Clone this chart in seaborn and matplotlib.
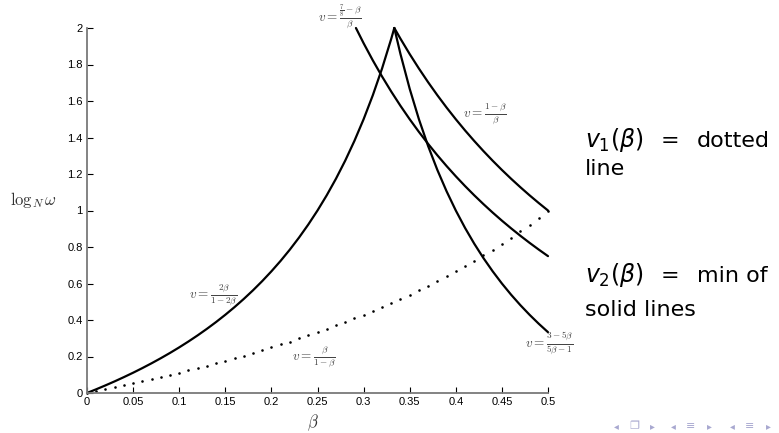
import numpy as np
import pandas as pd
import seaborn as sns
import matplotlib.pyplot as plt
from matplotlib.ticker import FuncFormatter

# values
# v = 2b/(1-2b), left branch up to the peak
beta_a = [0, 0.01, 0.02, 0.03, 0.04, 0.05, 0.06, 0.07, 0.08, 0.09, 0.10, 0.11,
          0.12, 0.13, 0.14, 0.15, 0.16, 0.17, 0.18, 0.19, 0.20, 0.21, 0.22, 0.23,
          0.24, 0.25, 0.26, 0.27, 0.28, 0.29, 0.30, 0.31, 0.32, 0.33, 0.3333]
v_a = [0, 0.0204, 0.0417, 0.0638, 0.0870, 0.1111, 0.1364, 0.1628, 0.1905, 0.2195,
       0.25, 0.2821, 0.3158, 0.3514, 0.3889, 0.4286, 0.4706, 0.5152, 0.5625, 0.6129,
       0.6667, 0.7241, 0.7857, 0.8519, 0.9231, 1.0, 1.0833, 1.1739, 1.2727, 1.3810,
       1.5, 1.6316, 1.7778, 1.9412, 2.0]

# v = (7/8-b)/b
beta_b = [0.2917, 0.30, 0.31, 0.32, 0.33, 0.34, 0.35, 0.36, 0.37, 0.38, 0.39, 0.40,
          0.41, 0.42, 0.43, 0.44, 0.45, 0.46, 0.47, 0.48, 0.49, 0.50]
v_b = [2.0, 1.9167, 1.8226, 1.7344, 1.6515, 1.5735, 1.5, 1.4306, 1.3649, 1.3026,
       1.2436, 1.1875, 1.1341, 1.0833, 1.0349, 0.9886, 0.9444, 0.9022, 0.8617,
       0.8229, 0.7857, 0.75]

# v = (1-b)/b and v = (3-5b)/(5b-1), right of the peak
beta_r = [0.3333, 0.34, 0.35, 0.36, 0.37, 0.38, 0.39, 0.40, 0.41, 0.42, 0.43,
          0.44, 0.45, 0.46, 0.47, 0.48, 0.49, 0.50]
v_c = [2.0, 1.9412, 1.8571, 1.7778, 1.7027, 1.6316, 1.5641, 1.5, 1.4390, 1.3810,
       1.3256, 1.2727, 1.2222, 1.1739, 1.1277, 1.0833, 1.0408, 1.0]
v_d = [2.0, 1.8571, 1.6667, 1.5, 1.3529, 1.2222, 1.1053, 1.0, 0.9048, 0.8182,
       0.7391, 0.6667, 0.6, 0.5385, 0.4815, 0.4286, 0.3793, 0.3333]

# dotted curve v = b/(1-b)
beta_e = [0, 0.01, 0.02, 0.03, 0.04, 0.05, 0.06, 0.07, 0.08, 0.09, 0.10, 0.11,
          0.12, 0.13, 0.14, 0.15, 0.16, 0.17, 0.18, 0.19, 0.20, 0.21, 0.22, 0.23,
          0.24, 0.25, 0.26, 0.27, 0.28, 0.29, 0.30, 0.31, 0.32, 0.33, 0.34, 0.35,
          0.36, 0.37, 0.38, 0.39, 0.40, 0.41, 0.42, 0.43, 0.44, 0.45, 0.46, 0.47,
          0.48, 0.49, 0.50]
v_e = [0, 0.0101, 0.0204, 0.0309, 0.0417, 0.0526, 0.0638, 0.0753, 0.0870, 0.0989,
       0.1111, 0.1236, 0.1364, 0.1494, 0.1628, 0.1765, 0.1905, 0.2048, 0.2195,
       0.2346, 0.25, 0.2658, 0.2821, 0.2987, 0.3158, 0.3333, 0.3514, 0.3699,
       0.3889, 0.4085, 0.4286, 0.4493, 0.4706, 0.4925, 0.5152, 0.5385, 0.5625,
       0.5873, 0.6129, 0.6393, 0.6667, 0.6949, 0.7241, 0.7544, 0.7857, 0.8182,
       0.8519, 0.8868, 0.9231, 0.9608, 1.0]

x_ticks = [0, 0.05, 0.1, 0.15, 0.2, 0.25, 0.3, 0.35, 0.4, 0.45, 0.5]
y_ticks = [0, 0.2, 0.4, 0.6, 0.8, 1, 1.2, 1.4, 1.6, 1.8, 2]

sns.set_style("ticks")
plt.rcParams['font.family'] = ['Liberation Sans', 'DejaVu Sans']
plt.rcParams['mathtext.fontset'] = 'cm'

fig = plt.figure(figsize=(7.79, 4.33), dpi=100)
ax = fig.add_axes([87 / 779, 40 / 433, 461 / 779, 365 / 433])

for bx, vy in [(beta_a, v_a), (beta_b, v_b), (beta_r, v_c), (beta_r, v_d)]:
    sns.lineplot(x=bx, y=vy, ax=ax, color='black', linewidth=1.6,
                 sort=False, estimator=None)
sns.scatterplot(x=beta_e, y=v_e, ax=ax, color='black', s=3.5, linewidth=0)
for l in ax.lines:
    l.set_clip_on(False)
for c in ax.collections:
    c.set_clip_on(False)

ax.set_xlim(0, 0.5)
ax.set_ylim(0, 2)
ax.set_xticks(x_ticks)
ax.set_yticks(y_ticks)
fmt = FuncFormatter(lambda v, p: '%g' % v)
ax.xaxis.set_major_formatter(fmt)
ax.yaxis.set_major_formatter(fmt)
ax.tick_params(direction='in', length=4, width=0.8, labelsize=8,
               colors='black', pad=3)
for s in ['top', 'right']:
    ax.spines[s].set_visible(False)
for s in ['left', 'bottom']:
    ax.spines[s].set_color('#7a7a7a')
    ax.spines[s].set_linewidth(1.3)

ax.set_ylabel(r'$\log_N\omega$', rotation=0, fontsize=12, color='#333333')
ax.yaxis.set_label_coords(-0.117, 0.5)
ax.set_xlabel(r'$\beta$', fontsize=12, color='#333333', va='center')
ax.xaxis.set_label_coords(0.49, -0.082)

# curve labels
lab = dict(fontsize=9.5, color='#444444', clip_on=False)
ax.text(0.163, 0.54, r'$v=\frac{2\beta}{1-2\beta}$', ha='right', va='center', **lab)
ax.text(0.222, 0.2, r'$v=\frac{\beta}{1-\beta}$', ha='left', va='center', **lab)
ax.text(0.408, 1.53, r'$v=\frac{1-\beta}{\beta}$', ha='left', va='center', **lab)
ax.text(0.25, 2.06, r'$v=\frac{\frac{7}{8}-\beta}{\beta}$', ha='left', va='center', **lab)
ax.text(0.475, 0.27, r'$v=\frac{3-5\beta}{5\beta-1}$', ha='left', va='center', **lab)

# side notes
word = dict(fontsize=16, color='black', family='DejaVu Sans', va='baseline')
math = dict(fontsize=17, color='black', math_fontfamily='dejavusans',
            family='DejaVu Sans', va='baseline')
fig.text(585 / 779, 1 - 147 / 433, r'$v_1(\beta)$', **math)
fig.text(661 / 779, 1 - 147 / 433, '=', **word)
fig.text(697 / 779, 1 - 147 / 433, 'dotted', **word)
fig.text(585 / 779, 1 - 175 / 433, 'line', **word)
fig.text(585 / 779, 1 - 282 / 433, r'$v_2(\beta)$', **math)
fig.text(661 / 779, 1 - 282 / 433, '=', **word)
fig.text(697 / 779, 1 - 282 / 433, 'min of', **word)
fig.text(585 / 779, 1 - 316 / 433, 'solid lines', **word)

# navigation symbols
nav = dict(color='#a8a8d0', family='DejaVu Sans', va='center', ha='center')
ny = 1 - 426 / 433
for x0, mid in [(634, '❐'), (691, '≡'), (750, '≡')]:
    fig.text((x0 - 18) / 779, ny, '◂', fontsize=7, **nav)
    fig.text((x0 + 18) / 779, ny, '▸', fontsize=7, **nav)
    fig.text(x0 / 779, ny, mid, fontsize=8, **nav)

fig.savefig('out.png', dpi=100)
